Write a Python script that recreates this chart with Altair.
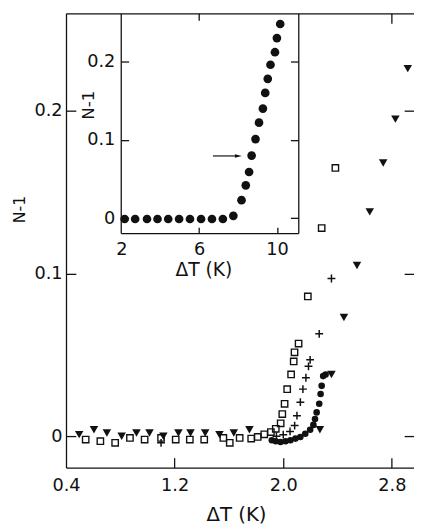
import altair as alt
import pandas as pd

# ---------------- data ----------------
# main panel
circ_x = [1.916, 1.945, 1.98, 2.017, 2.053, 2.09, 2.126, 2.162, 2.198, 2.222, 2.234, 2.246, 2.265, 2.275, 2.283, 2.294, 2.312]
circ_y = [-0.0024, -0.003, -0.0035, -0.003, -0.0024, -0.0014, -0.0004, 0.0016, 0.004, 0.007, 0.0106, 0.0147, 0.020, 0.026, 0.031, 0.037, 0.038]

sq_x = [0.545, 0.653, 0.762, 0.871, 0.979, 1.10, 1.208, 1.312, 1.418, 1.559, 1.606, 1.679, 1.764, 1.812, 1.86, 1.909,
        1.945, 1.981, 1.993, 2.01, 2.029, 2.058, 2.077, 2.083, 2.113, 2.181, 2.283, 2.384]
sq_y = [-0.002, -0.003, -0.004, -0.001, -0.002, -0.001, -0.002, -0.002, -0.002, -0.001, -0.004, -0.001, -0.0014, -0.0004, 0.0012, 0.0026,
        0.0046, 0.008, 0.0137, 0.020, 0.029, 0.038, 0.046, 0.0516, 0.057, 0.086, 0.128, 0.165]

plus_x = [1.10, 1.95, 2.0, 2.05, 2.084, 2.101, 2.126, 2.145, 2.167, 2.186, 2.198, 2.265, 2.355]
plus_y = [-0.004, 0.0, 0.001, 0.003, 0.0066, 0.0127, 0.021, 0.029, 0.036, 0.043, 0.047, 0.063, 0.097]

tri_x = [0.497, 0.606, 0.701, 0.81, 0.919, 1.015, 1.117, 1.228, 1.317, 1.425, 1.53, 1.636, 1.751,
         2.27, 2.355, 2.447, 2.543, 2.637, 2.736, 2.826, 2.917]
tri_y = [0.001, 0.004, 0.002, 0.0, 0.002, 0.002, 0.0, 0.002, 0.002, 0.002, 0.001, 0.002, 0.004,
         0.004, 0.038, 0.073, 0.105, 0.138, 0.168, 0.195, 0.226]

# inset
in_x = [2.17, 2.71, 3.32, 3.86, 4.41, 4.97, 5.53, 6.10, 6.66, 7.22, 7.76, 8.18, 8.40, 8.57, 8.70, 8.90,
        9.08, 9.28, 9.40, 9.53, 9.67, 9.90, 10.0, 10.17]
in_y = [-0.001, -0.001, -0.001, -0.001, -0.001, -0.001, -0.001, -0.001, -0.001, -0.001, 0.003, 0.023, 0.042, 0.059, 0.080, 0.101,
        0.122, 0.140, 0.160, 0.178, 0.196, 0.212, 0.230, 0.248]
arrow_x = [6.71]
arrow_x2 = [8.0]
arrow_y = [0.0795]
head_x = [8.02]

main_xticks = [0.4, 1.2, 2.0, 2.8]
main_yticks = [0, 0.1, 0.2]
inset_xticks = [2, 6, 10]
inset_yticks = [0, 0.1, 0.2]

# ---------------- layout ----------------
W, H = 354, 462
FONT = "DejaVu Sans"
INK = "#111111"

xs = alt.Scale(domain=[0.4, 2.963], nice=False, zero=False)
ys = alt.Scale(domain=[-0.0192, 0.26], nice=False, zero=False)
IL, IR, IB = 55.7, 236.3, 223.5
ixs = alt.Scale(domain=[1.97, 11.1], range=[IL, IR], nice=False, zero=False)
iys = alt.Scale(domain=[-0.019, 0.2616], range=[IB, 0], nice=False, zero=False)


def ax(**kw):
    base = dict(grid=False, domainColor=INK, tickColor=INK, domainWidth=1.3, tickWidth=1.3,
                labelColor=INK, labelFont=FONT, labelFontSize=18, labelFlush=False, labelOverlap=False,
                titleFont=FONT, titleFontSize=19, titleFontWeight="normal", titleColor=INK, title="")
    base.update(kw)
    return alt.Axis(**base)


def df(x, y):
    return pd.DataFrame({"x": x, "y": y})


# main: labels + titles
circ = alt.Chart(df(circ_x, circ_y)).mark_circle(size=45, opacity=1, color=INK).encode(
    x=alt.X("x:Q", scale=xs, axis=ax(orient="bottom", domain=False, ticks=False, values=main_xticks,
                                      format=".1f", labelPadding=9, title="ΔT (K)", titleX=173, titleY=48,
                                      titleBaseline="middle", titleFontSize=20)),
    y=alt.Y("y:Q", scale=ys, axis=ax(orient="left", domain=False, ticks=False, values=main_yticks,
                                      format=".1~f", labelPadding=4, title="N-1", titleX=-47, titleY=199,
                                      titleBaseline="middle", titleFontSize=16)),
)
# main: bottom frame + inward ticks, left frame + inward ticks
sq = alt.Chart(df(sq_x, sq_y)).mark_point(shape="square", filled=False, size=42, strokeWidth=1.4, color=INK, opacity=1).encode(
    x=alt.X("x:Q", scale=xs, axis=ax(orient="top", offset=-H, tickSize=10, labels=False, values=[1.2, 2.0, 2.8])),
    y=alt.Y("y:Q", scale=ys, axis=ax(orient="right", offset=-W, tickSize=10, labels=False, values=main_yticks)),
)
# main: top frame + tick, right ticks (no right frame)
pl = alt.Chart(df(plus_x, plus_y)).mark_point(shape="M-1,0L1,0M0,-1L0,1", filled=False, size=64, strokeWidth=1.5,
                                            color=INK, opacity=1).encode(
    x=alt.X("x:Q", scale=xs, axis=ax(orient="bottom", offset=-H, tickSize=10, labels=False, values=[2.8])),
    y=alt.Y("y:Q", scale=ys, axis=ax(orient="left", offset=-W, domain=False, tickSize=10, labels=False, values=main_yticks)),
)
tri = alt.Chart(df(tri_x, tri_y)).mark_point(shape="triangle-down", filled=True, size=75, color=INK, opacity=1).encode(
    x=alt.X("x:Q", scale=xs, axis=None),
    y=alt.Y("y:Q", scale=ys, axis=None),
)
main = alt.layer(sq, pl, tri, circ).resolve_axis(x="independent", y="independent")

# inset
ipts = alt.Chart(df(in_x, in_y)).mark_circle(size=78, opacity=1, color=INK).encode(
    x=alt.X("x:Q", scale=ixs, axis=ax(orient="bottom", offset=IB - H, domain=False, ticks=False, values=inset_xticks,
                                       format="d", labelPadding=8, title="ΔT (K)", titleX=139.7, titleY=37.5,
                                       titleBaseline="middle")),
    y=alt.Y("y:Q", scale=iys, axis=ax(orient="left", offset=-IL, domain=False, ticks=False, values=inset_yticks,
                                       format=".1~f", labelPadding=6, title="N-1", titleX=-32.7, titleY=93,
                                       titleBaseline="middle", titleFontSize=17)),
)
arrow = alt.Chart(pd.DataFrame({"x": arrow_x, "x2": arrow_x2, "y": arrow_y})).mark_rule(strokeWidth=1.2, color=INK).encode(
    x=alt.X("x:Q", scale=ixs, axis=ax(orient="top", offset=-IB, tickSize=6, labels=False, values=[6, 10])),
    x2="x2:Q",
    y=alt.Y("y:Q", scale=iys, axis=ax(orient="right", offset=-(W - IL), tickSize=8, labels=False, values=inset_yticks)),
)
head = alt.Chart(pd.DataFrame({"x": head_x, "y": arrow_y})).mark_point(shape="M1,0L-1,-0.5L-1,0.5Z", filled=True, size=50,
                                                                       color=INK, opacity=1).encode(
    x=alt.X("x:Q", scale=ixs, axis=ax(orient="bottom", offset=-H, domain=False, tickSize=7, labels=False, values=[6])),
    y=alt.Y("y:Q", scale=iys, axis=ax(orient="left", offset=-IR, tickSize=8, labels=False, values=inset_yticks)),
)
inset = alt.layer(ipts, arrow, head).resolve_axis(x="independent", y="independent")

chart = alt.layer(main, inset).resolve_scale(x="independent", y="independent").properties(
    width=W, height=H,
    padding={"left": 59, "top": 1, "right": 0, "bottom": 54},
    autosize=alt.AutoSizeParams(type="none"),
    background="white",
).configure_view(strokeWidth=0)

chart.save("out.html", embed_options={"renderer": "svg", "actions": False})
